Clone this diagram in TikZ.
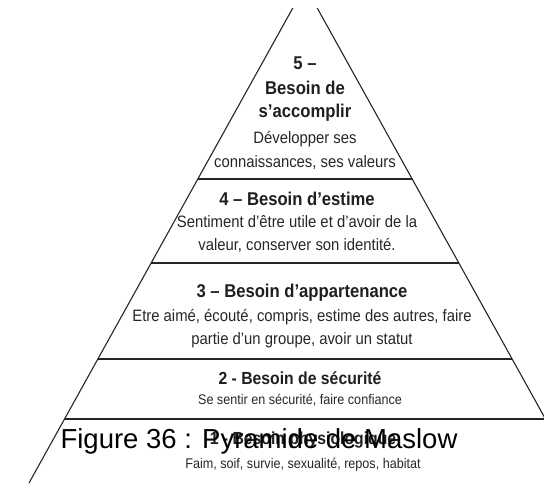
\documentclass[tikz,border=0pt]{standalone}
\usepackage{fontspec}
\setmainfont{Liberation Sans}
\newfontfamily\etroite[FakeStretch=0.9]{Liberation Sans}
\begin{document}
\begin{tikzpicture}[x=1pt,y=-1pt,
	titre/.style={font=\etroite\fontsize{18.5}{20}\selectfont\bfseries, text=black!88, inner sep=0pt},
	texte/.style={font=\etroite\fontsize{16.5}{18}\selectfont, text=black!85, inner sep=0pt},
	titrebas/.style={font=\etroite\fontsize{17.5}{18}\selectfont\bfseries, text=black!88, inner sep=0pt},
	textebas/.style={font=\etroite\fontsize{14}{15}\selectfont, text=black!85, inner sep=0pt},
	legende/.style={font=\fontsize{27.5}{32}\selectfont, text=black, inner sep=0pt}]
		\useasboundingbox (0,0) rectangle (544,483);
		
		%pyramid
		\begin{scope}
		\clip (0,8) rectangle (544,483);
		\coordinate (sommet) at (305,-14);
		\coordinate (gauche) at (29,483);
		\coordinate (droite) at (581,483);
		\draw[line width=1.1pt, black!85] (gauche) -- (sommet) -- (droite);
		\foreach \y/\g/\d in {179/198/412, 263/151/459, 359/98/512, 419/65/545}{
			\draw[line width=1.1pt, black!85] (\g, \y)--(\d, \y);
		}
		\end{scope}
		
		%level 5
		\node (t5) at (305, 63) [titre]{5 –};
		\node (t5b) at (305, 88) [titre]{Besoin de};
		\node (t5c) at (305, 113) [titre]{s’accomplir};
		\node (d5a) at (305, 139) [texte]{Développer ses};
		\node (d5b) at (305, 163) [texte]{connaissances, ses valeurs};
		
		%level 4
		\node (t4) at (297, 199) [titre]{4 – Besoin d’estime};
		\node (d4a) at (297, 222) [texte]{Sentiment d’être utile et d’avoir de la};
		\node (d4b) at (297, 245) [texte]{valeur, conserver son identité.};
		
		%level 3
		\node (t3) at (302, 293) [titre]{3 – Besoin d’appartenance};
		\node (d3a) at (302, 317) [texte]{Etre aimé, écouté, compris, estime des autres, faire};
		\node (d3b) at (302, 340) [texte]{partie d’un groupe, avoir un statut};
		
		%level 2
		\node (t2) at (300, 378) [titrebas]{2 - Besoin de sécurité};
		\node (d2) at (300, 400) [textebas]{Se sentir en sécurité, faire confiance};
		
		%level 1
		\node (t1) at (303, 440) [titrebas]{1 - Besoin physiologique};
		\node (d1) at (303, 465) [textebas]{Faim, soif, survie, sexualité, repos, habitat};
		
		%caption
		\node (fig) at (259, 441) [legende]{Figure 36 : Pyramide de Maslow};
		\end{tikzpicture}
\end{document}
